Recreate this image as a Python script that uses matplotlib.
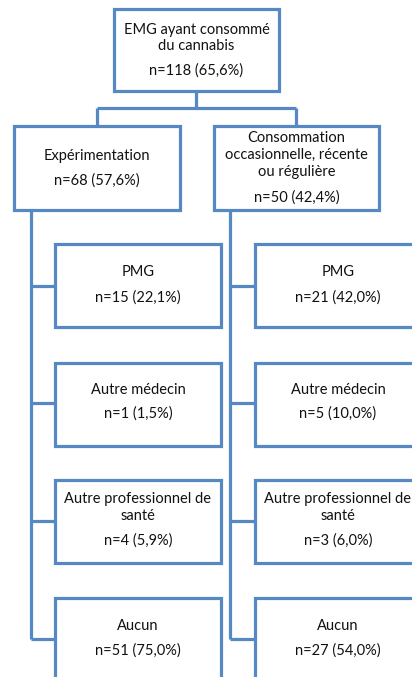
import matplotlib
matplotlib.use("Agg")
import matplotlib.pyplot as plt
from matplotlib.patches import Rectangle

# ---- data ----
root_label = "EMG ayant consommé\ndu cannabis"
root_n = 118
root_pct = "65,6"

groups = ["Expérimentation", "Consommation\noccasionnelle, récente\nou régulière"]
group_n = [68, 50]
group_pct = ["57,6", "42,4"]

categories = ["PMG", "Autre médecin", "Autre professionnel de\nsanté", "Aucun"]
n_exp = [15, 1, 4, 51]
pct_exp = ["22,1", "1,5", "5,9", "75,0"]
n_occ = [21, 5, 3, 27]
pct_occ = ["42,0", "10,0", "6,0", "54,0"]

# ---- layout ----
W, H = 412, 677
fig = plt.figure(figsize=(W / 100, H / 100), dpi=100)
ax = fig.add_axes([0, 0, 1, 1])
ax.set_xlim(0, W)
ax.set_ylim(H, 0)
ax.axis("off")

col = "#5689C3"
lw = 2.3
font = dict(family=["Lato", "DejaVu Sans"], fontsize=10.5, color="#111111")


def box(x0, y0, x1, y1):
    ax.add_patch(Rectangle((x0, y0), x1 - x0, y1 - y0, fill=True, facecolor="white",
                           edgecolor=col, lw=lw, zorder=3, clip_on=False))


def lines_text(cx, ys, texts):
    for y, t in zip(ys, texts):
        ax.text(cx, y, t, ha="center", va="center", zorder=4, **font)


def seg(xs, ys):
    ax.plot(xs, ys, color=col, lw=lw, solid_capstyle="butt", zorder=2)


# root
box(114, 9, 279, 91)
rl = root_label.split("\n")
lines_text(196.5, [30, 46, 71], rl + [f"n={root_n} ({root_pct}%)"])

# connectors root -> groups
seg([196.5, 196.5], [91, 108])
seg([97, 296], [108, 108])
seg([97, 97], [108, 126])
seg([296, 296], [108, 126])

# groups
box(14, 126, 180, 210)
lines_text(97, [156, 181], [groups[0], f"n={group_n[0]} ({group_pct[0]}%)"])
box(214, 126, 379, 210)
g2 = groups[1].split("\n")
lines_text(296.5, [138, 155, 172, 198], g2 + [f"n={group_n[1]} ({group_pct[1]}%)"])

# children
child_top = [244, 363, 480, 598]
child_h = 83
conn_y = [286, 403, 521, 639]
text_pos = {
    0: [272, 298],
    1: [390, 414],
    2: [499, 516, 541],
}
text_pos[3] = [626, 651]

for trunk_x, bx0, bx1, ns, pcts in [(31, 55, 221, n_exp, pct_exp),
                                    (230, 255, 421, n_occ, pct_occ)]:
    seg([trunk_x, trunk_x], [210, conn_y[-1]])
    cx = (bx0 + bx1) / 2
    for i, cat in enumerate(categories):
        seg([trunk_x, bx0], [conn_y[i], conn_y[i]])
        box(bx0, child_top[i], bx1, child_top[i] + child_h)
        lines_text(cx, text_pos[i], cat.split("\n") + [f"n={ns[i]} ({pcts[i]}%)"])

fig.savefig("out.png", dpi=100, facecolor="white")
